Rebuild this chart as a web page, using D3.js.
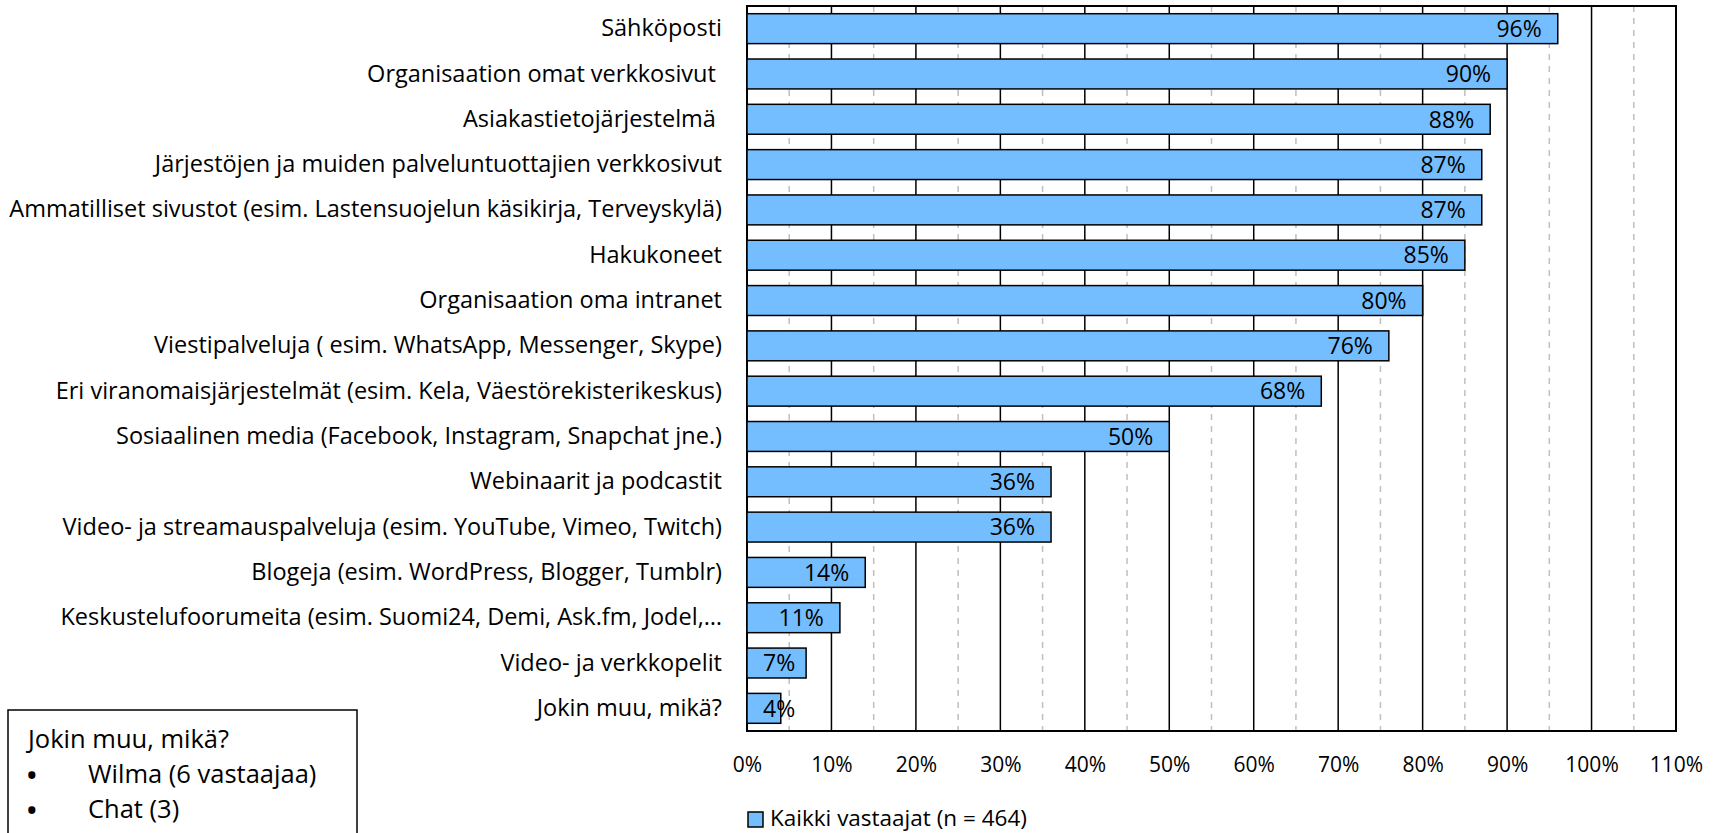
<!DOCTYPE html>
<html>
<head>
<meta charset="utf-8">
<script src="https://cdn.jsdelivr.net/npm/d3@7"></script>
<style>
  body { margin: 0; background: #fff; }
  text { font-family: "Open Sans", "Noto Sans", sans-serif; fill: #000; }
</style>
</head>
<body>
<div id="chart"></div>
<script>
var categories = [
  "Sähköposti",
  "Organisaation omat verkkosivut ",
  "Asiakastietojärjestelmä ",
  "Järjestöjen ja muiden palveluntuottajien verkkosivut",
  "Ammatilliset sivustot (esim. Lastensuojelun käsikirja, Terveyskylä)",
  "Hakukoneet",
  "Organisaation oma intranet",
  "Viestipalveluja ( esim. WhatsApp, Messenger, Skype)",
  "Eri viranomaisjärjestelmät (esim. Kela, Väestörekisterikeskus)",
  "Sosiaalinen media (Facebook, Instagram, Snapchat jne.)",
  "Webinaarit ja podcastit",
  "Video- ja streamauspalveluja (esim. YouTube, Vimeo, Twitch)",
  "Blogeja (esim. WordPress, Blogger, Tumblr)",
  "Keskustelufoorumeita (esim. Suomi24, Demi, Ask.fm, Jodel,…",
  "Video- ja verkkopelit",
  "Jokin muu, mikä?"
];
var values = [96, 90, 88, 87, 87, 85, 80, 76, 68, 50, 36, 36, 14, 11, 7, 4];
var tickValues = [0, 10, 20, 30, 40, 50, 60, 70, 80, 90, 100, 110];
var minorTicks = [5, 15, 25, 35, 45, 55, 65, 75, 85, 95, 105];
var seriesName = "Kaikki vastaajat (n = 464)";
var noteLines = ["Jokin muu, mikä?", "Wilma (6 vastaajaa)", "Chat (3)"];

var W = 1720, H = 833;
var margin = {top: 6, right: 44, bottom: 102, left: 747};
var width = W - margin.left - margin.right,
    height = H - margin.top - margin.bottom;

var svg = d3.select("#chart").append("svg")
  .attr("width", W)
  .attr("height", H);

var g = svg.append("g")
  .attr("transform", "translate(" + margin.left + "," + margin.top + ")");

var x = d3.scaleLinear().domain([0, 110]).range([0, width]);
var y = d3.scaleBand().domain(categories).range([0, height]).paddingInner(0.34).paddingOuter(0.17);

// minor dashed grid
g.selectAll(".minor")
  .data(minorTicks)
  .enter().append("line")
  .attr("x1", function(d) { return x(d); })
  .attr("x2", function(d) { return x(d); })
  .attr("y1", 0).attr("y2", height)
  .attr("stroke", "#bfbfbf")
  .attr("stroke-width", 1.5)
  .attr("stroke-dasharray", "6,6");

// major grid
g.selectAll(".major")
  .data(tickValues)
  .enter().append("line")
  .attr("x1", function(d) { return x(d); })
  .attr("x2", function(d) { return x(d); })
  .attr("y1", 0).attr("y2", height)
  .attr("stroke", "#000")
  .attr("stroke-width", 1.5);

// frame
g.append("rect")
  .attr("x", 0).attr("y", 0)
  .attr("width", width).attr("height", height)
  .attr("fill", "none")
  .attr("stroke", "#000")
  .attr("stroke-width", 2);

// bars
g.selectAll(".bar")
  .data(values)
  .enter().append("rect")
  .attr("x", x(0))
  .attr("y", function(d, i) { return y(categories[i]); })
  .attr("width", function(d) { return x(d) - x(0); })
  .attr("height", y.bandwidth())
  .attr("fill", "#74beff")
  .attr("stroke", "#000")
  .attr("stroke-width", 1.5);

// value labels, inside end
g.selectAll(".val")
  .data(values)
  .enter().append("text")
  .attr("y", function(d, i) { return y(categories[i]) + y.bandwidth() / 2; })
  .attr("dy", "0.36em")
  .attr("text-anchor", "end")
  .style("font-size", "23px")
  .text(function(d) { return d + "%"; })
  .attr("x", function(d) {
    var tw = this.getComputedTextLength();
    return Math.max(x(d) - 16, x(0) + 16 + tw);
  });

// axis
var xAxis = d3.axisBottom(x)
  .tickValues(tickValues)
  .tickSize(0)
  .tickPadding(26)
  .tickFormat(function(d) { return d + "%"; });

var ax = g.append("g")
  .attr("transform", "translate(0," + height + ")")
  .call(xAxis);
ax.select(".domain").remove();
ax.selectAll("text").style("font-size", "21px").style("font-family", "'Open Sans', 'Noto Sans', sans-serif");

// category labels
var yAxis = d3.axisLeft(y).tickSize(0).tickPadding(25);
var ay = g.append("g").call(yAxis);
ay.select(".domain").remove();
ay.selectAll("text")
  .style("font-size", "23.5px")
  .style("font-family", "'Open Sans', 'Noto Sans', sans-serif")
  .style("white-space", "pre")
  .attr("xml:space", "preserve");

// legend
var leg = svg.append("g")
  .attr("transform", "translate(" + (margin.left + 1) + "," + 826 + ")");
leg.append("rect")
  .attr("x", 0).attr("y", -14)
  .attr("width", 15).attr("height", 15)
  .attr("fill", "#74beff")
  .attr("stroke", "#000")
  .attr("stroke-width", 1.5);
leg.append("text")
  .attr("x", 22).attr("y", 0)
  .style("font-size", "22.5px")
  .text(seriesName);

// note box
var note = svg.append("g");
note.append("rect")
  .attr("x", 8).attr("y", 710)
  .attr("width", 349).attr("height", 140)
  .attr("fill", "#fff")
  .attr("stroke", "#000")
  .attr("stroke-width", 1.5);
note.selectAll(".ln")
  .data(noteLines)
  .enter().append("text")
  .attr("x", function(d, i) { return i === 0 ? 28 : 88; })
  .attr("y", function(d, i) { return 748 + i * 35; })
  .style("font-size", "25.5px")
  .text(function(d) { return d; });
note.selectAll(".bul")
  .data(noteLines.slice(1))
  .enter().append("text")
  .attr("x", 27)
  .attr("y", function(d, i) { return 784 + i * 35; })
  .style("font-size", "25.5px")
  .style("font-weight", "bold")
  .text("•");
</script>
</body>
</html>
